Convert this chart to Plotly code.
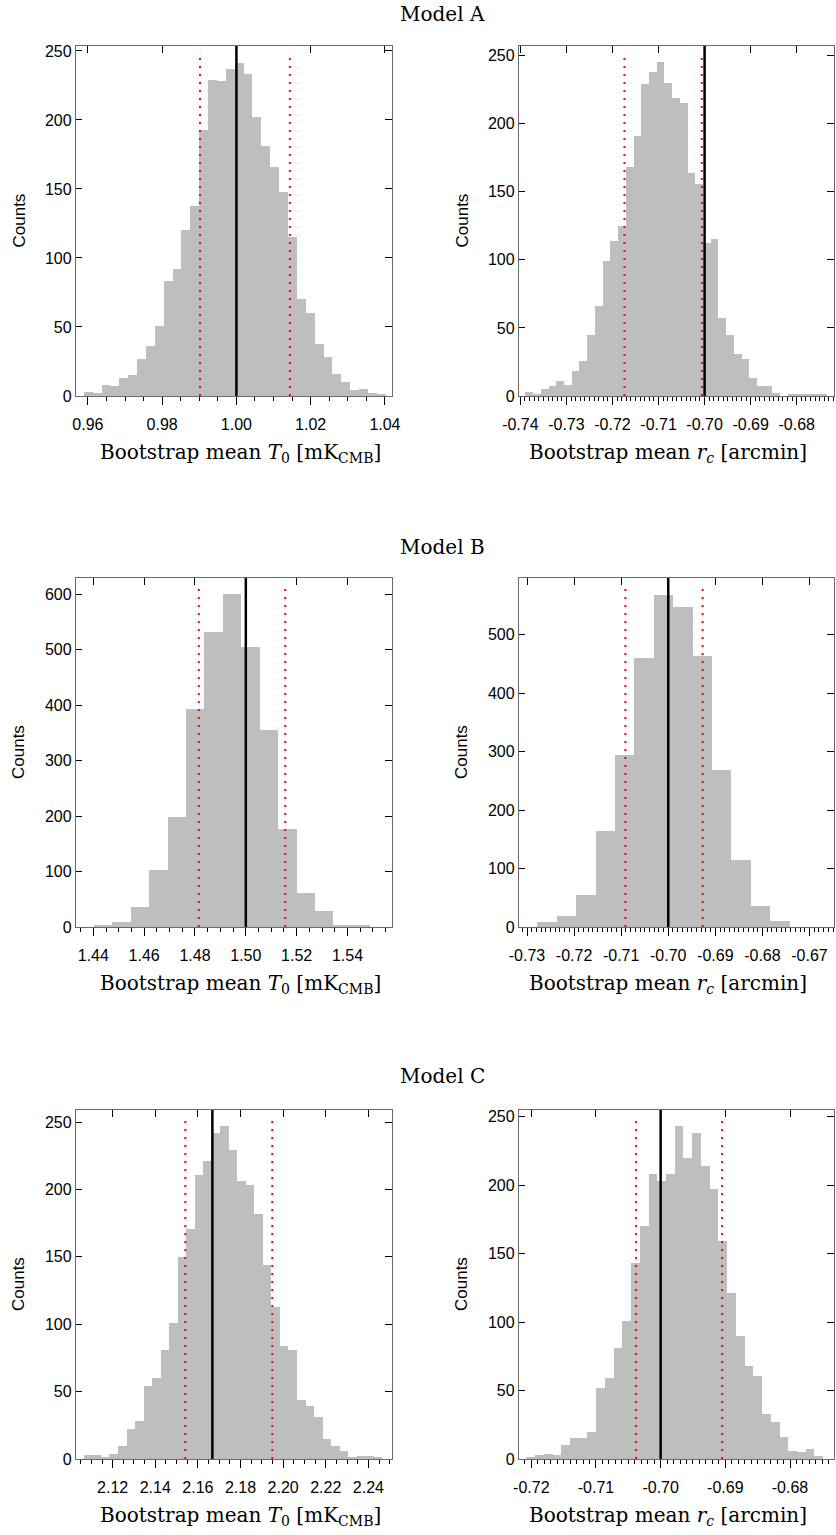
import numpy as np
import plotly.graph_objects as go

# ---------------- data ----------------
# Model A, T0
A_T0_start = 0.9589
A_T0_width = 0.002391
A_T0_counts = [3, 2, 8, 7, 13, 15, 27, 36, 51, 83, 92, 120, 138, 193, 229, 228, 237, 241,
               233, 202, 181, 166, 148, 115, 70, 60, 38, 28, 16, 10, 4, 5, 2, 1]
A_T0_true = 1.000
A_T0_ci = [0.9902, 1.0144]
A_T0_ticks = [0.96, 0.98, 1.00, 1.02, 1.04]
A_T0_ticktext = ["0.96", "0.98", "1.00", "1.02", "1.04"]

# Model A, r_c
A_rc_start = -0.73891
A_rc_width = 0.0016767
A_rc_counts = [3, 1, 5, 7, 11, 8, 18, 26, 45, 66, 99, 114, 125, 168, 191, 229, 238, 245, 230,
               219, 215, 164, 156, 112, 115, 57, 45, 31, 27, 13, 7, 7, 2, 0, 1, 1, 1, 1, 1]
A_rc_true = -0.700
A_rc_ci = [-0.7174, -0.7006]
A_rc_ticks = [-0.74, -0.73, -0.72, -0.71, -0.70, -0.69, -0.68]
A_rc_ticktext = ["-0.74", "-0.73", "-0.72", "-0.71", "-0.70", "-0.69", "-0.68"]

# Model B, T0
B_T0_start = 1.4403
B_T0_width = 0.00724
B_T0_counts = [3, 9, 36, 102, 198, 393, 532, 600, 504, 355, 176, 61, 29, 2, 3]
B_T0_true = 1.500
B_T0_ci = [1.4815, 1.5155]
B_T0_ticks = [1.44, 1.46, 1.48, 1.50, 1.52, 1.54]
B_T0_ticktext = ["1.44", "1.46", "1.48", "1.50", "1.52", "1.54"]

# Model B, r_c
B_rc_start = -0.72781
B_rc_width = 0.00412
B_rc_counts = [8, 18, 54, 164, 294, 461, 568, 548, 463, 269, 115, 36, 11]
B_rc_true = -0.700
B_rc_ci = [-0.7091, -0.6927]
B_rc_ticks = [-0.73, -0.72, -0.71, -0.70, -0.69, -0.68, -0.67]
B_rc_ticktext = ["-0.73", "-0.72", "-0.71", "-0.70", "-0.69", "-0.68", "-0.67"]

# Model C, T0
C_T0_start = 2.10651
C_T0_width = 0.004
C_T0_counts = [3, 3, 1, 4, 10, 22, 28, 54, 60, 81, 101, 150, 171, 211, 221, 242, 247, 229,
               206, 203, 182, 144, 113, 84, 81, 44, 39, 31, 15, 10, 6, 1, 2, 2, 1]
C_T0_true = 2.1668
C_T0_ci = [2.1541, 2.1949]
C_T0_ticks = [2.12, 2.14, 2.16, 2.18, 2.20, 2.22, 2.24]
C_T0_ticktext = ["2.12", "2.14", "2.16", "2.18", "2.20", "2.22", "2.24"]

# Model C, r_c
C_rc_start = -0.72077
C_rc_width = 0.00135
C_rc_counts = [1, 3, 4, 3, 10, 15, 15, 20, 52, 59, 81, 101, 143, 170, 208, 203, 208, 243,
               220, 238, 214, 197, 159, 121, 90, 68, 61, 33, 27, 16, 6, 5, 7, 2]
C_rc_true = -0.700
C_rc_ci = [-0.7038, -0.6905]
C_rc_ticks = [-0.72, -0.71, -0.70, -0.69, -0.68]
C_rc_ticktext = ["-0.72", "-0.71", "-0.70", "-0.69", "-0.68"]

model_titles = ["Model A", "Model B", "Model C"]
xlabel_T0 = "Bootstrap mean <i>T</i><sub>0</sub> [mK<sub>CMB</sub>]"
xlabel_rc = "Bootstrap mean <i>r<sub>c</sub></i> [arcmin]"
ylabel = "Counts"

# ---------------- layout geometry ----------------
W, H = 836, 1535
BAR_COLOR = "#bebebe"
LINE_COLOR = "#6a6a6a"
SANS = "Liberation Sans, Arial, Helvetica, sans-serif"
SERIF = "DejaVu Serif, Liberation Serif, serif"

colL = (76, 392)
colR = (519, 834)
rows = [(46, 396), (578, 927), (1110, 1459)]
title_y = [14.5, 547, 1076]

panels = [
    dict(start=A_T0_start, width=A_T0_width, counts=A_T0_counts, true=A_T0_true, ci=A_T0_ci,
         tv=A_T0_ticks, tt=A_T0_ticktext,
         xr=[0.9568, 1.0419], yr=[0, 253.6], mdt=0.005, ydt=50, col=colL, row=0),
    dict(start=A_rc_start, width=A_rc_width, counts=A_rc_counts, true=A_rc_true, ci=A_rc_ci,
         tv=A_rc_ticks, tt=A_rc_ticktext,
         xr=[-0.7403, -0.6719], yr=[0, 257], mdt=0.001, ydt=50, col=colR, row=0),
    dict(start=B_T0_start, width=B_T0_width, counts=B_T0_counts, true=B_T0_true, ci=B_T0_ci,
         tv=B_T0_ticks, tt=B_T0_ticktext,
         xr=[1.4332, 1.5575], yr=[0, 629], mdt=0.005, ydt=100, col=colL, row=1),
    dict(start=B_rc_start, width=B_rc_width, counts=B_rc_counts, true=B_rc_true, ci=B_rc_ci,
         tv=B_rc_ticks, tt=B_rc_ticktext,
         xr=[-0.7317, -0.6648], yr=[0, 597], mdt=0.001, ydt=100, col=colR, row=1),
    dict(start=C_T0_start, width=C_T0_width, counts=C_T0_counts, true=C_T0_true, ci=C_T0_ci,
         tv=C_T0_ticks, tt=C_T0_ticktext,
         xr=[2.1028, 2.2511], yr=[0, 259], mdt=0.005, ydt=50, col=colL, row=2),
    dict(start=C_rc_start, width=C_rc_width, counts=C_rc_counts, true=C_rc_true, ci=C_rc_ci,
         tv=C_rc_ticks, tt=C_rc_ticktext,
         xr=[-0.7219, -0.6732], yr=[0, 255], mdt=0.001, ydt=50, col=colR, row=2),
]


def px_x(v):
    return v / W


def px_y(v):
    return 1 - v / H


fig = go.Figure()
layout_axes = {}
shapes = []
annotations = []

for i, p in enumerate(panels):
    xm, xt = 2 * i + 1, 2 * i + 2
    ym, yt = 2 * i + 1, 2 * i + 2
    xm_name = "x" if xm == 1 else f"x{xm}"
    ym_name = "y" if ym == 1 else f"y{ym}"
    xt_name, yt_name = f"x{xt}", f"y{yt}"
    xdom = [px_x(p["col"][0]), px_x(p["col"][1])]
    top, bot = rows[p["row"]]
    ydom = [px_y(bot), px_y(top)]

    counts = np.array(p["counts"], dtype=float)
    centers = p["start"] + p["width"] * (np.arange(len(counts)) + 0.5)
    fig.add_trace(go.Bar(x=centers, y=counts, width=p["width"],
                         marker=dict(color=BAR_COLOR, line=dict(width=0)),
                         xaxis=xm_name, yaxis=ym_name, showlegend=False,
                         hoverinfo="x+y"))
    # empty placeholder traces so the mirrored (top / right) axes get drawn
    fig.add_trace(go.Scatter(x=[None], y=[None], xaxis=xt_name, yaxis=ym_name,
                             mode="markers", showlegend=False, hoverinfo="skip"))
    fig.add_trace(go.Scatter(x=[None], y=[None], xaxis=xm_name, yaxis=yt_name,
                             mode="markers", showlegend=False, hoverinfo="skip"))

    common_x = dict(range=p["xr"], showgrid=False, zeroline=False, showline=True,
                    linecolor=LINE_COLOR, linewidth=1.3, tickmode="array",
                    tickvals=p["tv"], ticktext=p["tt"], tickcolor="black", tickwidth=1,
                    automargin=False, fixedrange=True)
    layout_axes[f"xaxis{xm}"] = dict(
        common_x, domain=xdom, anchor=ym_name, ticks="outside", ticklen=8,
        tickfont=dict(family=SANS, size=16, color="black"),
        ticklabelstandoff=6,
        minor=dict(tickmode="linear", dtick=p["mdt"], tick0=0, ticks="outside", ticklen=4,
                   tickcolor="black", tickwidth=1, showgrid=False))
    layout_axes[f"xaxis{xt}"] = dict(
        common_x, overlaying=xm_name, anchor=ym_name, side="top", ticks="inside",
        ticklen=7, showticklabels=False)

    common_y = dict(range=p["yr"], showgrid=False, zeroline=False, showline=True,
                    linecolor=LINE_COLOR, linewidth=1.3, tickmode="linear", tick0=0,
                    dtick=p["ydt"], tickcolor="black", tickwidth=1,
                    automargin=False, fixedrange=True)
    layout_axes[f"yaxis{ym}"] = dict(
        common_y, domain=ydom, anchor=xm_name, ticks="inside", ticklen=6,
        tickfont=dict(family=SANS, size=16, color="black"))
    layout_axes[f"yaxis{yt}"] = dict(
        common_y, overlaying=ym_name, anchor=xm_name, side="right", ticks="inside",
        ticklen=7, showticklabels=False)

    # true value (solid black) and interval (red dotted)
    shapes.append(dict(type="line", xref=xm_name, yref=f"{ym_name} domain",
                       x0=p["true"], x1=p["true"], y0=0, y1=1,
                       line=dict(color="black", width=2.5)))
    for v in p["ci"]:
        shapes.append(dict(type="line", xref=xm_name, yref=f"{ym_name} domain",
                           x0=v, x1=v, y0=0, y1=0.98,
                           line=dict(color="red", width=2, dash="2px,6px")))

    # axis titles
    ycen = (top + bot) / 2
    annotations.append(dict(text=ylabel, textangle=-90, xref="paper", yref="paper",
                            x=px_x(p["col"][0] - 57.5), y=px_y(ycen), showarrow=False,
                            xanchor="center", yanchor="middle",
                            font=dict(family=SANS, size=17, color="black")))
    xl = xlabel_T0 if p["col"] == colL else xlabel_rc
    xc = 240 if p["col"] == colL else 668
    annotations.append(dict(text=xl, xref="paper", yref="paper", x=px_x(xc),
                            y=px_y(bot + 57), showarrow=False, xanchor="center",
                            yanchor="middle", font=dict(family=SERIF, size=20, color="black")))

for k, t in enumerate(model_titles):
    annotations.append(dict(text=t, xref="paper", yref="paper", x=px_x(442),
                            y=px_y(title_y[k]), showarrow=False, xanchor="center",
                            yanchor="middle", font=dict(family=SERIF, size=20, color="black")))

fig.update_layout(
    width=W, height=H, margin=dict(l=0, r=0, t=0, b=0, autoexpand=False),
    paper_bgcolor="white", plot_bgcolor="white", bargap=0,
    shapes=shapes, annotations=annotations, showlegend=False,
    **layout_axes)

fig.write_html("out.html")
